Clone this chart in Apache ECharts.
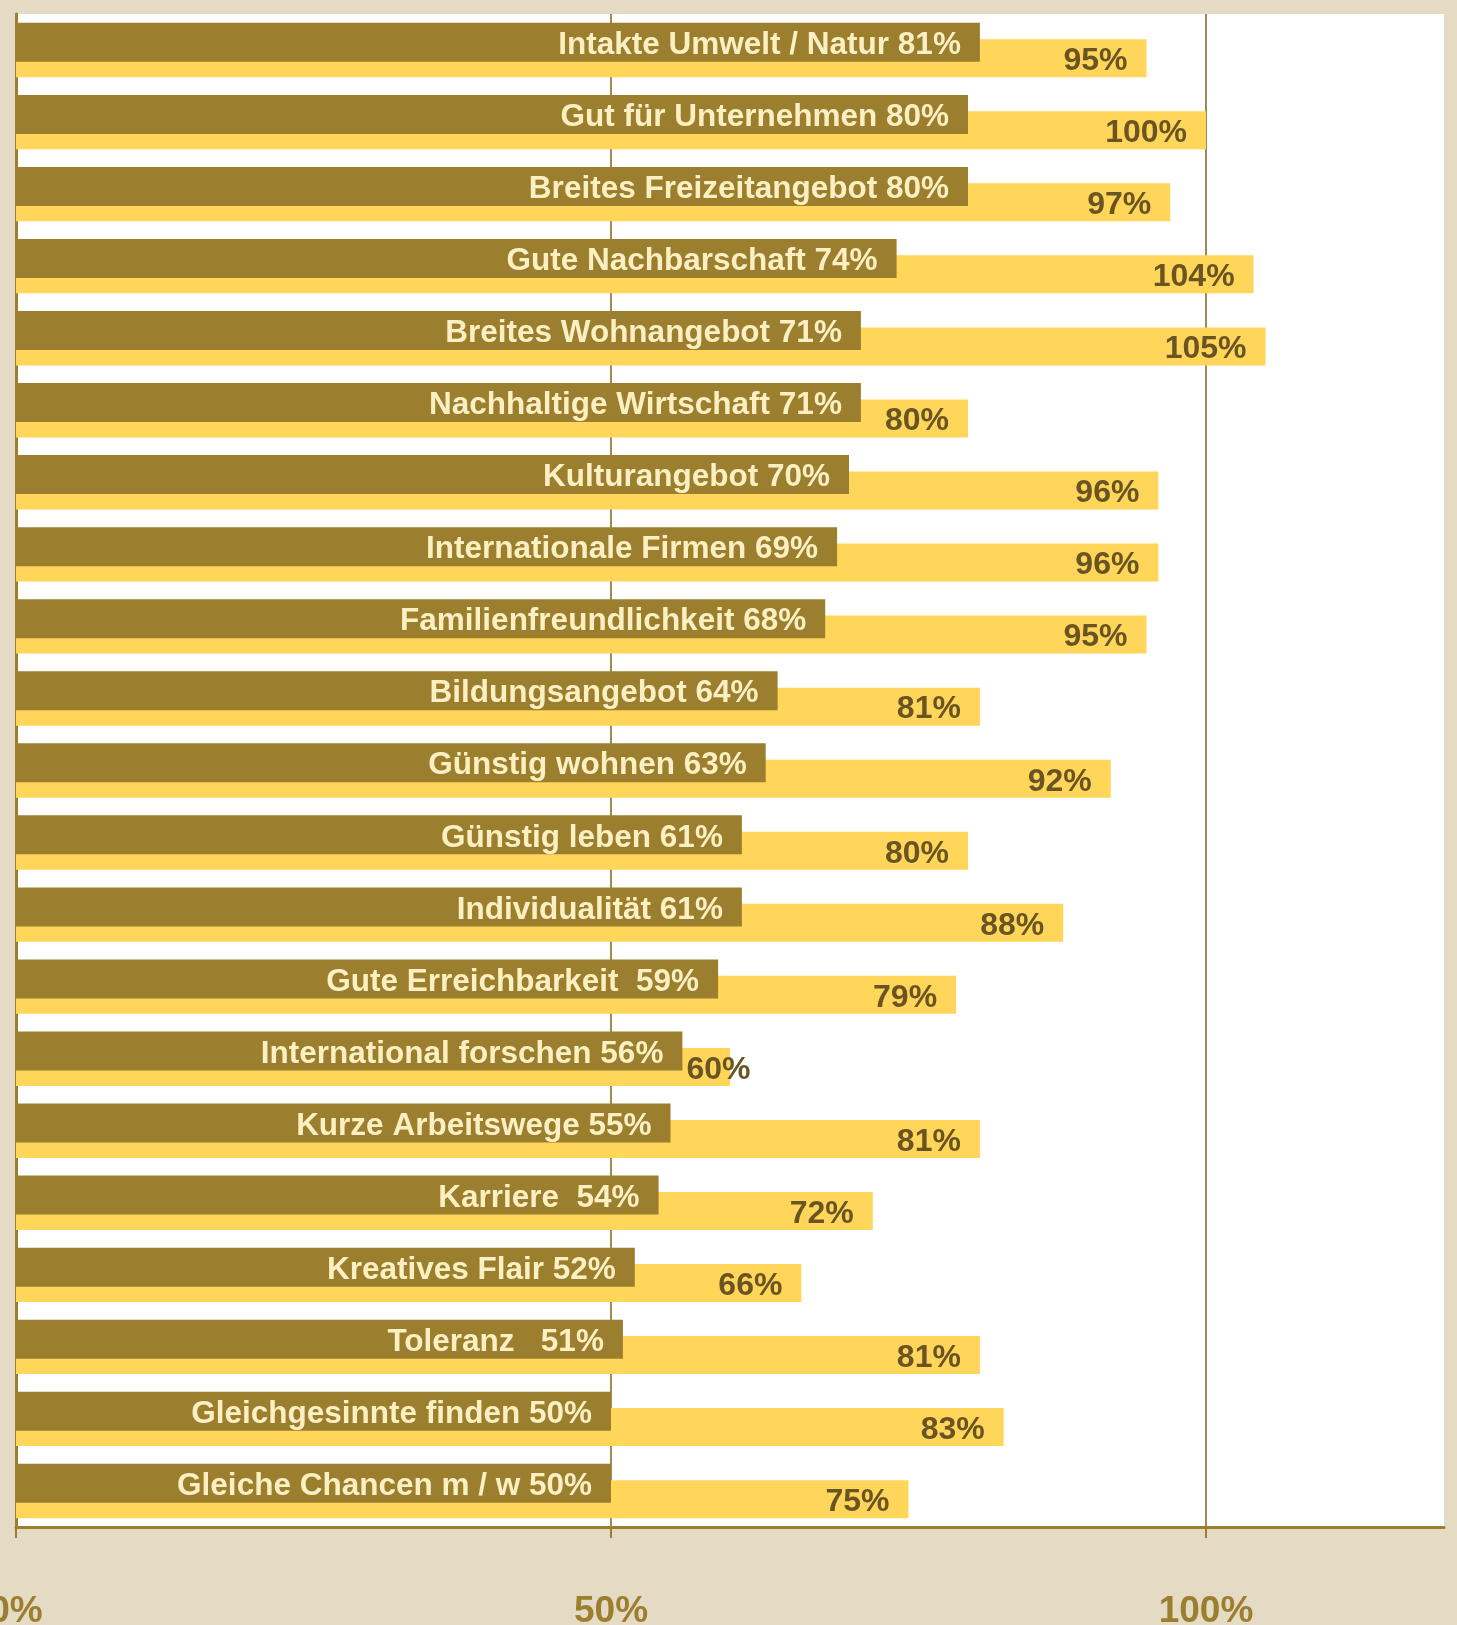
<!DOCTYPE html>
<html>
<head>
<meta charset="utf-8">
<script src="https://cdn.jsdelivr.net/npm/echarts@6/dist/echarts.min.js"></script>
<style>
html,body{margin:0;padding:0;background:#E5DBC5;}
#chart{width:1457px;height:1625px;}
</style>
</head>
<body>
<div id="chart"></div>
<script>
const categories = [
  "Intakte Umwelt / Natur", "Gut für Unternehmen", "Breites Freizeitangebot",
  "Gute Nachbarschaft", "Breites Wohnangebot", "Nachhaltige Wirtschaft",
  "Kulturangebot", "Internationale Firmen", "Familienfreundlichkeit",
  "Bildungsangebot", "Günstig wohnen", "Günstig leben", "Individualität",
  "Gute Erreichbarkeit ", "International forschen", "Kurze Arbeitswege",
  "Karriere ", "Kreatives Flair", "Toleranz  ", "Gleichgesinnte finden",
  "Gleiche Chancen m / w"
];
const darkValues = [81, 80, 80, 74, 71, 71, 70, 69, 68, 64, 63, 61, 61, 59, 56, 55, 54, 52, 51, 50, 50];
const lightValues = [95, 100, 97, 104, 105, 80, 96, 96, 95, 81, 92, 80, 88, 79, 60, 81, 72, 66, 81, 83, 75];
const tickValues = [0, 50, 100];
const xMax = 120;

const W = 1457, H = 1625;
const gridLeft = 16, gridRight = 13, gridTop = 14, gridBottom = 98;
const pxPer = (W - gridLeft - gridRight) / xMax;
const FONT = "'Liberation Sans', Arial, Helvetica, sans-serif";
const BROWN = '#9B7E2E';

const lightData = lightValues.map((v, i) => {
  const gap = (v - darkValues[i]) * pxPer;
  if (gap < 80) {
    return { value: v, label: { position: 'right', distance: -gap + 4 } };
  }
  return v;
});

const chart = echarts.init(document.getElementById('chart'), null, { renderer: 'canvas' });
chart.setOption({
  animation: false,
  backgroundColor: '#E5DBC5',
  grid: {
    left: gridLeft, right: gridRight, top: gridTop, bottom: gridBottom,
    show: true, backgroundColor: '#FFFFFF', borderWidth: 0,
    containLabel: false, outerBoundsMode: 'none'
  },
  xAxis: {
    type: 'value', min: 0, max: xMax, interval: 50,
    axisLine: { show: true, lineStyle: { color: BROWN, width: 3 } },
    axisTick: { show: true, length: 11, lineStyle: { color: BROWN, width: 2 }, customValues: tickValues },
    axisLabel: {
      customValues: tickValues,
      formatter: v => v + '%',
      color: BROWN, fontFamily: FONT, fontWeight: 'bold', fontSize: 37, margin: 66
    },
    splitLine: { show: true, lineStyle: { color: '#A08A52', width: 2 } }
  },
  yAxis: {
    type: 'category', data: categories, inverse: true,
    axisLine: { show: true, lineStyle: { color: BROWN, width: 3 } },
    axisTick: { show: false },
    axisLabel: { show: false },
    splitLine: { show: false }
  },
  series: [
    {
      name: 'dark', type: 'bar', data: darkValues, z: 3,
      barWidth: 39, barGap: '-58%',
      itemStyle: { color: '#9C7E2F' },
      label: {
        show: true, position: 'insideRight', distance: 19, offset: [0, 3],
        formatter: p => p.name + ' ' + p.value + '%',
        color: '#FCF0C2', fontFamily: FONT, fontWeight: 'bold', fontSize: 31.5
      }
    },
    {
      name: 'light', type: 'bar', data: lightData, z: 2,
      barWidth: 38,
      itemStyle: { color: '#FFD65A' },
      label: {
        show: true, position: 'insideRight', distance: 19, offset: [0, 3],
        formatter: p => p.value + '%',
        color: '#6A5422', fontFamily: FONT, fontWeight: 'bold', fontSize: 32
      }
    }
  ]
});
</script>
</body>
</html>
